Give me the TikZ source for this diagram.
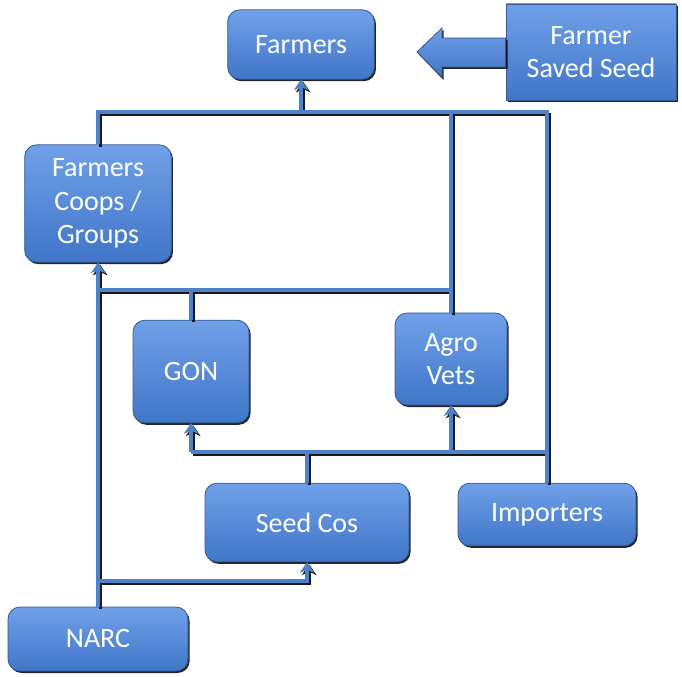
\documentclass[tikz,border=0pt]{standalone}
\usepackage{fontspec}
\setmainfont{Carlito}
\usetikzlibrary{arrows.meta,shadows}
\definecolor{linkblue}{RGB}{79,129,200}
\definecolor{boxtop}{RGB}{112,160,232}
\definecolor{boxbot}{RGB}{64,118,200}
\definecolor{boxedge}{RGB}{52,88,150}
\tikzset{
  box/.style={rectangle, rounded corners=9pt, draw=boxedge, line width=0.6pt,
    top color=boxtop, bottom color=boxbot, text=white, align=center,
    font=\fontsize{21}{25}\selectfont, inner sep=0pt,
    drop shadow={shadow xshift=1.2pt, shadow yshift=-1.5pt, fill=black, opacity=0.85}},
  sharpbox/.style={box, rounded corners=0pt},
  link/.style={draw=linkblue, line width=2.3pt},
  linkshade/.style={draw=black!90, line width=2.3pt},
  tip/.style={-{Stealth[length=8pt, width=11pt, inset=2.5pt]}}
}
% all connectors, drawn with the style given as argument
\newcommand\wiring[1]{%
  \draw[#1] (coops.north) |- (imp.north |- topbus) -- (imp.north);
  \draw[#1] (agro.north) -- (agro.north |- topbus);
  \draw[#1, tip] (farmers.south |- topbus) -- (farmers.south);
  \draw[#1] (coops.south |- midbus) -- (agro.north |- midbus);
  \draw[#1] (gon.north) -- (gon.north |- midbus);
  \draw[#1] (seed.north) -- (seed.north |- lowbus);
  \draw[#1] (gon.south |- lowbus) -- (imp.north |- lowbus);
  \draw[#1, tip] (gon.south |- lowbus) -- (gon.south);
  \draw[#1, tip] (agro.south |- lowbus) -- (agro.south);
  \draw[#1, tip] (narc.north) -- (coops.south);
  \draw[#1, tip] (narc.north |- narcbus) -| (seed.south);
}
\begin{document}
\begin{tikzpicture}[x=0.75pt, y=-0.75pt]
  \useasboundingbox (0,0) rectangle (682,677);

  % boxes
  \node[box, minimum width=110pt, minimum height=52pt] (farmers) at (301,44.5) {Farmers};
  \node[sharpbox, minimum width=127.5pt, minimum height=72pt] (fss) at (591,52) {Farmer\\Saved Seed};
  \node[box, minimum width=110pt, minimum height=88pt] (coops) at (98,203.5) {Farmers\\Coops /\\Groups};
  \node[box, minimum width=87pt, minimum height=77pt] (gon) at (191,371.5) {GON};
  \node[box, minimum width=84pt, minimum height=69pt] (agro) at (451,359) {Agro\\Vets};
  \node[box, minimum width=153pt, minimum height=59pt] (seed) at (307,522.5) {Seed Cos};
  \node[box, minimum width=133.5pt, minimum height=47pt] (imp) at (547,514.5) {Importers};
  \node[box, minimum width=135pt, minimum height=48pt] (narc) at (98,639) {NARC};

  % block arrow from saved seed towards farmers
  \fill[black, opacity=0.85] (418.5,54) -- (443.5,30) -- (443.5,40) -- (507.5,40) -- (507.5,69) -- (443.5,69) -- (443.5,80) -- cycle;
  \path[top color=boxtop, bottom color=boxbot, draw=boxedge, line width=0.6pt]
    (417,52) -- (442,28) -- (442,38) -- (fss.west |- 0,38) -- (fss.west |- 0,67) -- (442,67) -- (442,77) -- cycle;

  % bus levels
  \coordinate (topbus) at (0,112);
  \coordinate (midbus) at (0,290);
  \coordinate (lowbus) at (0,452);
  \coordinate (narcbus) at (0,581);

  % connectors: dark offset copy first, blue on top
  \begin{scope}[transform canvas={xshift=1.6pt, yshift=-1.6pt}]
    \wiring{linkshade}
  \end{scope}
  \wiring{link}
\end{tikzpicture}
\end{document}
